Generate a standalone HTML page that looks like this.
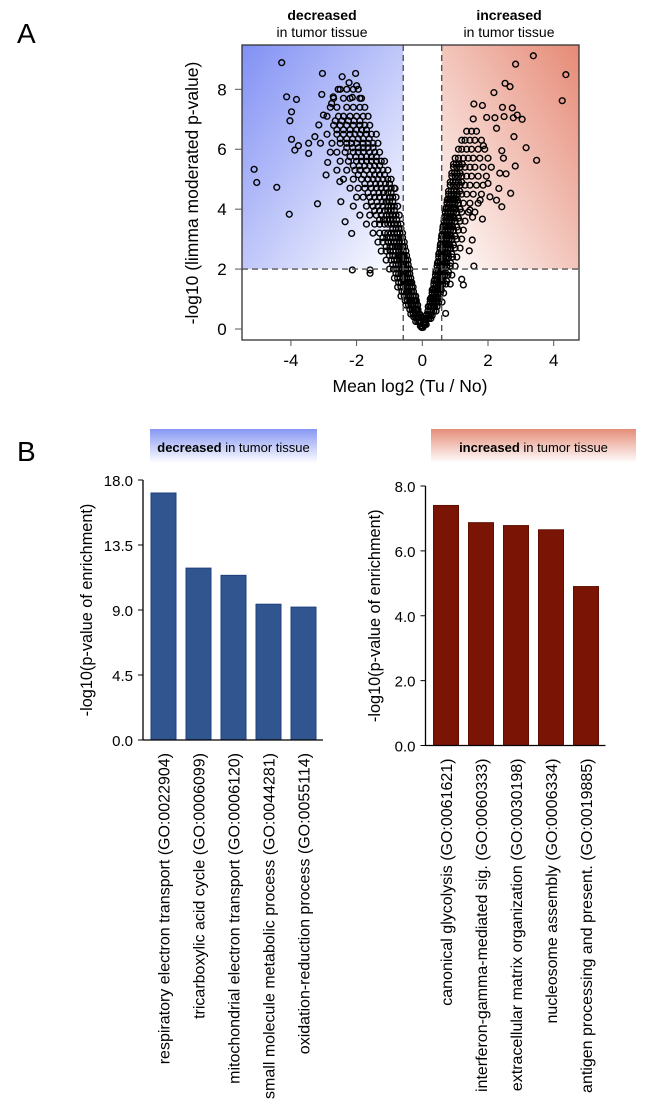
<!DOCTYPE html>
<html><head><meta charset="utf-8"><style>
html,body{margin:0;padding:0;background:#fff;}
svg{display:block;font-family:"Liberation Sans",Arial,sans-serif;}
</style></head><body>
<svg id="fig" width="650" height="1115" viewBox="0 0 650 1115" xmlns="http://www.w3.org/2000/svg">
<defs>
<linearGradient id="gBlue" x1="0" y1="0" x2="1" y2="1"><stop offset="0" stop-color="#8190f4"/><stop offset="1" stop-color="#ffffff"/></linearGradient>
<linearGradient id="gRed" x1="1" y1="0" x2="0" y2="1"><stop offset="0" stop-color="#e68a76"/><stop offset="1" stop-color="#ffffff"/></linearGradient>
<linearGradient id="hBlue" x1="0" y1="0" x2="0" y2="1"><stop offset="0" stop-color="#8797f3"/><stop offset="1" stop-color="#ffffff"/></linearGradient>
<linearGradient id="hRed" x1="0" y1="0" x2="0" y2="1"><stop offset="0" stop-color="#e58d79"/><stop offset="1" stop-color="#ffffff"/></linearGradient>
</defs>
<text x="17" y="43" font-size="28">A</text>
<text x="17" y="461" font-size="28">B</text>
<g id="volcano"></g>
<g id="barsL"></g>
<g id="barsR"></g>
</svg>
<script>
// ---- Volcano data ----
const outX = [-4.28,-4.13,-3.83,-3.98,-4.03,-3.98,-3.77,-3.88,-5.12,-5.04,-4.43,-4.05,-3.19,-3.04,-3.06,-2.44,-2.03,-2.23,-2.0,-2.56,-2.13,-2.71,-3.46,-3.46,-3.27,-3.15,-3.01,-2.76,-2.93,-2.88,-2.51,-2.48,-2.35,-2.15,-2.13,-1.59,-1.59,-0.83,
3.38,2.84,4.37,2.52,2.67,2.18,4.26,1.57,1.83,2.44,2.74,2.89,3.04,2.49,2.77,2.21,1.96,1.55,2.26,2.79,1.86,3.16,2.42,2.47,3.48,2.83,2.55,2.36,2.33,2.69,2.42,2.26,1.53,1.83,1.52,1.43,1.57,1.25,1.2,0.71,2.0,2.06,1.76,1.45];
const outY = [8.89,7.75,7.66,7.25,6.95,6.33,6.12,5.97,5.33,4.89,4.73,3.83,4.18,8.53,7.83,8.42,8.53,8.22,8.12,8.0,7.73,7.75,6.2,5.86,6.42,6.81,7.14,7.53,5.14,5.56,4.92,4.25,3.58,3.19,1.97,1.97,1.86,4.69,
9.12,8.84,8.49,8.2,8.09,7.89,7.62,7.51,7.46,7.4,7.38,7.14,7.0,7.09,7.05,7.05,7.06,7.01,6.7,6.42,6.12,6.05,5.95,5.7,5.63,5.44,5.18,5.2,4.69,4.53,4.08,4.3,3.73,3.67,2.97,2.61,2.1,1.47,1.66,0.52,4.86,4.41,4.3,3.97];
const rowY = [8.0,7.7,7.4,7.1,6.8,6.5,6.2,5.9,5.6,5.3,5.0,4.7,4.4,4.1,3.8,3.5,3.2,2.9,2.6,2.3,2.0,1.7,1.4,1.1,0.8,0.5,0.25,0.1,
 3.35,3.05,2.75,2.45,2.15,1.85,1.55,1.25,0.95,0.65,0.38,
 0.05,0.4,0.65,0.95,1.25,1.55,1.85,2.15,2.45,2.75,3.05,3.65,3.95,4.25,4.55,4.85,5.15,5.45,5.75,6.05,6.35,6.65,6.95,
 6.6,6.3,6.0,5.7,5.4,5.1,4.8,4.5,4.2,3.9,3.6,3.3,3.0,2.7,2.4,2.1,1.8,1.5,1.2,0.9,0.6,0.35,0.15,
 4.35,4.05,3.75,3.45,3.15,2.85,2.55,2.25,1.95,1.65,1.35,1.05,0.75,0.48,0.25,
 0.05,0.45,0.75,1.0,1.3,1.6,1.9,2.2,2.5,2.8,3.1,3.4,3.7,4.0,4.3,4.6,4.9,5.2,5.5];
const rowX = [
[-2.5,-2.3,-2.1,-1.95],[-2.7,-2.4,-2.2,-1.9,-1.85],[-2.8,-2.6,-2.3,-2.1,-1.9,-1.75],[-2.9,-2.55,-2.4,-2.2,-2.0,-1.8,-1.65],
[-2.7,-2.5,-2.3,-2.1,-1.9,-1.75,-1.6],[-2.9,-2.6,-2.4,-2.2,-2.05,-1.9,-1.7,-1.55,-1.4],[-3.1,-2.75,-2.5,-2.3,-2.15,-2.0,-1.8,-1.65,-1.5,-1.35],
[-2.8,-2.6,-2.35,-2.1,-1.95,-1.8,-1.6,-1.45,-1.3],[-2.5,-2.25,-2.0,-1.85,-1.7,-1.55,-1.4,-1.25,-1.15],[-2.6,-2.3,-2.05,-1.9,-1.7,-1.5,-1.35,-1.2,-1.05],
[-2.4,-2.1,-1.85,-1.65,-1.5,-1.35,-1.2,-1.05,-0.95],[-2.2,-1.95,-1.75,-1.55,-1.4,-1.25,-1.1,-0.95,-0.85],[-2.0,-1.8,-1.6,-1.45,-1.3,-1.15,-1.0,-0.9,-0.8],
[-2.1,-1.7,-1.5,-1.35,-1.2,-1.05,-0.95,-0.85,-0.75],[-1.9,-1.6,-1.4,-1.25,-1.1,-1.0,-0.9,-0.8,-0.7],[-1.7,-1.45,-1.3,-1.15,-1.05,-0.95,-0.85,-0.75,-0.65],
[-1.5,-1.3,-1.15,-1.05,-0.95,-0.85,-0.75,-0.68,-0.6],[-1.35,-1.2,-1.05,-0.95,-0.85,-0.78,-0.7,-0.62,-0.55],[-1.25,-1.1,-0.98,-0.88,-0.8,-0.72,-0.65,-0.58,-0.5],
[-1.1,-0.95,-0.85,-0.77,-0.7,-0.63,-0.56,-0.5,-0.44],[-1.0,-0.88,-0.78,-0.7,-0.63,-0.56,-0.5,-0.44,-0.38],[-0.85,-0.75,-0.67,-0.6,-0.53,-0.47,-0.41,-0.35],
[-0.75,-0.65,-0.58,-0.51,-0.45,-0.39,-0.33,-0.28],[-0.65,-0.55,-0.48,-0.42,-0.36,-0.3,-0.25,-0.2],[-0.5,-0.42,-0.35,-0.29,-0.24,-0.19,-0.14],
[-0.35,-0.28,-0.22,-0.17,-0.12,-0.08],[-0.2,-0.14,-0.09,-0.05],[-0.06,-0.02],
[-0.9,-0.8,-0.72,-0.65],[-0.82,-0.74,-0.66,-0.6],[-0.76,-0.68,-0.6,-0.54],[-0.7,-0.62,-0.55,-0.48],[-0.64,-0.56,-0.5,-0.43],[-0.58,-0.5,-0.44,-0.38],
[-0.52,-0.45,-0.39,-0.32],[-0.46,-0.4,-0.33,-0.27],[-0.38,-0.32,-0.26,-0.21],[-0.3,-0.25,-0.2,-0.15],[-0.2,-0.15,-0.1],
[-0.02],[-0.26,-0.2,-0.14,-0.09],[-0.38,-0.31,-0.25,-0.19,-0.13],[-0.52,-0.45,-0.38,-0.31,-0.24,-0.18],[-0.62,-0.55,-0.48,-0.41,-0.34,-0.27],
[-0.72,-0.64,-0.57,-0.5,-0.43,-0.36],[-0.8,-0.72,-0.65,-0.58,-0.51,-0.44],[-0.9,-0.8,-0.72,-0.65,-0.58,-0.5],[-1.0,-0.9,-0.82,-0.74,-0.66,-0.58],
[-1.1,-0.98,-0.9,-0.82,-0.74,-0.66],[-1.2,-1.08,-0.98,-0.9,-0.82,-0.72],[-1.3,-1.18,-1.08,-0.98,-0.88,-0.78],[-1.45,-1.3,-1.15,-1.05,-0.95,-0.85],
[-1.55,-1.38,-1.22,-1.1,-1.0,-0.9],[-1.65,-1.48,-1.32,-1.18,-1.05,-0.95],[-1.75,-1.58,-1.42,-1.28,-1.12,-1.0],[-1.95,-1.78,-1.6,-1.45,-1.3,-1.15],
[-2.1,-1.92,-1.75,-1.6,-1.45,-1.3],[-2.2,-2.02,-1.85,-1.7,-1.55,-1.4],[-2.3,-2.12,-1.95,-1.8,-1.65,-1.5],[-2.5,-2.3,-2.12,-1.95,-1.8,-1.62],
[-2.6,-2.4,-2.2,-2.0,-1.85,-1.7],[-2.65,-2.45,-2.25,-2.08,-1.9],
[1.35,1.5,1.65],[1.2,1.3,1.45,1.6,1.8],[1.1,1.2,1.35,1.5,1.7,1.9],[1.0,1.1,1.25,1.4,1.55,1.75,2.0],[0.95,1.05,1.15,1.3,1.45,1.6,1.85,2.1],
[0.9,1.0,1.1,1.2,1.35,1.5,1.7,1.95],[0.85,0.95,1.05,1.15,1.3,1.45,1.65,1.85],[0.8,0.88,0.97,1.07,1.2,1.35,1.55,1.8],[0.75,0.83,0.92,1.0,1.1,1.25,1.45,1.7],
[0.7,0.78,0.86,0.95,1.05,1.2,1.4,1.6],[0.66,0.74,0.82,0.9,1.0,1.15,1.3],[0.62,0.7,0.78,0.86,0.95,1.1,1.25],[0.58,0.66,0.74,0.82,0.9,1.05,1.2],
[0.54,0.62,0.7,0.78,0.86,1.0,1.15],[0.5,0.58,0.65,0.72,0.8,0.92,1.05],[0.45,0.53,0.6,0.67,0.75,0.85,1.0],[0.4,0.47,0.54,0.61,0.68,0.78,0.9],
[0.35,0.42,0.49,0.55,0.62,0.72,0.85],[0.3,0.36,0.42,0.48,0.55,0.65],[0.24,0.3,0.36,0.42,0.5,0.6],[0.17,0.23,0.29,0.35,0.42],[0.1,0.15,0.2,0.26],[0.04,0.08,0.12],
[0.78,0.86,0.94,1.02],[0.73,0.8,0.88,0.96],[0.68,0.76,0.84,0.92],[0.64,0.72,0.8,0.88],[0.6,0.68,0.76,0.84],[0.56,0.64,0.72,0.8],[0.52,0.6,0.68,0.76],
[0.48,0.55,0.62,0.7],[0.43,0.5,0.57,0.64],[0.38,0.45,0.52,0.59],[0.33,0.4,0.47,0.54],[0.27,0.34,0.41,0.48],[0.2,0.27,0.34],[0.13,0.19,0.25],[0.05,0.1],
[0.02],[0.12,0.18,0.24,0.3],[0.18,0.25,0.32,0.38,0.45],[0.24,0.3,0.37,0.44,0.52],[0.3,0.37,0.44,0.51,0.58],[0.36,0.43,0.5,0.57,0.64,0.74],
[0.41,0.48,0.55,0.62,0.7,0.8],[0.46,0.53,0.6,0.67,0.75,0.86],[0.5,0.57,0.64,0.71,0.79,0.9],[0.55,0.62,0.69,0.76,0.84,0.95],[0.59,0.66,0.73,0.8,0.88,1.0],
[0.63,0.7,0.77,0.84,0.92,1.05],[0.67,0.74,0.81,0.88,0.97,1.1],[0.72,0.79,0.86,0.94,1.02,1.15],[0.76,0.83,0.9,0.98,1.07],[0.8,0.88,0.96,1.04,1.14],
[0.85,0.93,1.01,1.1,1.2],[0.9,0.98,1.06,1.15],[0.95,1.03,1.12,1.22]];
const xTicks = [-4,-2,0,2,4];
const yTicks = [0,2,4,6,8];
// ---- Bar data ----
const decCats = ["respiratory electron transport (GO:0022904)","tricarboxylic acid cycle (GO:0006099)","mitochondrial electron transport (GO:0006120)","small molecule metabolic process (GO:0044281)","oxidation-reduction process (GO:0055114)"];
const decVals = [17.1,11.9,11.4,9.4,9.2];
const decTicks = ["0.0","4.5","9.0","13.5","18.0"];
const incCats = ["canonical glycolysis (GO:0061621)","interferon-gamma-mediated sig. (GO:0060333)","extracellular matrix organization (GO:0030198)","nucleosome assembly (GO:0006334)","antigen processing and present. (GO:0019885)"];
const incVals = [7.4,6.87,6.78,6.65,4.9];
const incTicks = ["0.0","2.0","4.0","6.0","8.0"];

const NS="http://www.w3.org/2000/svg";
function mk(parent,tag,attrs,text){const e=document.createElementNS(NS,tag);for(const k in attrs)e.setAttribute(k,attrs[k]);if(text!==undefined)e.textContent=text;parent.appendChild(e);return e;}

// Volcano
(function(){
 const g=document.getElementById('volcano');
 const L=242,R=579,T=45,B=340;
 const sx=v=>422.3+v*32.85, sy=v=>329-v*29.96;
 const thrL=sx(-0.58), thrR=sx(0.59), thrY=sy(2);
 let r=mk(g,'rect',{x:L,y:T,width:thrL-L,height:thrY-T,fill:'url(#gBlue)'});
 
 
 r=mk(g,'rect',{x:thrR,y:T,width:R-thrR,height:thrY-T,fill:'url(#gRed)'});
 
 
 const pts=mk(g,'g',{fill:'none',stroke:'#000','stroke-width':1.4});
 
 
 rowY.forEach((y,i)=>rowX[i].forEach(x=>{const c=mk(pts,'circle',{cx:sx(x),cy:sy(y),r:2.9});
  
  }));
 outX.forEach((x,i)=>{const c=mk(pts,'circle',{cx:sx(x),cy:sy(outY[i]),r:2.9});
  
  });
 const d={stroke:'#555','stroke-width':1.4,'stroke-dasharray':'6,4'};
 let l=mk(g,'line',Object.assign({x1:thrL,x2:thrL,y1:T,y2:B},d));
 
 
 l=mk(g,'line',Object.assign({x1:thrR,x2:thrR,y1:T,y2:B},d));
 
 
 l=mk(g,'line',Object.assign({x1:L,x2:R,y1:thrY,y2:thrY},d));
 
 
 r=mk(g,'rect',{x:L,y:T,width:R-L,height:B-T,fill:'none',stroke:'#333','stroke-width':1.3});
 
 
 xTicks.forEach(v=>{mk(g,'line',{x1:sx(v),x2:sx(v),y1:B,y2:B+6,stroke:'#555'});
  const t=mk(g,'text',{x:sx(v),y:B+26,'font-size':17,'text-anchor':'middle'},String(v));
  
  });
 yTicks.forEach(v=>{mk(g,'line',{x1:L-7,x2:L,y1:sy(v),y2:sy(v),stroke:'#555'});
  const t=mk(g,'text',{x:222,y:sy(v)+6,'font-size':17,'text-anchor':'middle'},String(v));
  
  });
 let t=mk(g,'text',{x:410,y:392,'font-size':17.5,'text-anchor':'middle'},'Mean log2 (Tu / No)');
 
 
 t=mk(g,'text',{x:0,y:0,'font-size':17.5,'text-anchor':'middle',transform:'translate(198,193) rotate(-90)'},'-log10 (limma moderated p-value)');
 
 
 t=mk(g,'text',{x:322,y:20,'font-size':14,'font-weight':'bold','text-anchor':'middle'},'decreased');
 
 
 t=mk(g,'text',{x:322,y:37,'font-size':14,'text-anchor':'middle'},'in tumor tissue');
 
 
 t=mk(g,'text',{x:509,y:20,'font-size':14,'font-weight':'bold','text-anchor':'middle'},'increased');
 
 
 t=mk(g,'text',{x:509,y:37,'font-size':14,'text-anchor':'middle'},'in tumor tissue');
 
 
})();

function barChart(id,cats,vals,ticks,o){
 const g=document.getElementById(id);
 const max=parseFloat(ticks[ticks.length-1]);
 const sy=v=>o.y0-v/max*(o.y0-o.yTop);
 let h=mk(g,'rect',{x:o.hx,y:429,width:o.hw,height:34,fill:o.hfill});
 
 
 const ht=mk(g,'text',{x:o.hx+o.hw/2,y:452,'font-size':13,'text-anchor':'middle'});
 
 
 mk(ht,'tspan',{'font-weight':'bold'},o.word);
 mk(ht,'tspan',{},' in tumor tissue');
 cats.forEach((c,i)=>{
  const x=o.ax+8+i*35;
  const b=mk(g,'rect',{x:x,y:sy(vals[i]),width:25,height:o.y0-sy(vals[i]),fill:o.fill,stroke:o.stroke,'stroke-width':1});
  
  
  const t=mk(g,'text',{x:0,y:0,'font-size':16,'text-anchor':'end',transform:'translate('+(x+18.5)+','+(o.y0+13)+') rotate(-90)'},c);
  
  
 });
 let a=mk(g,'line',{x1:o.ax,x2:o.ax,y1:o.yTop,y2:o.y0,stroke:'#000','stroke-width':1.3});
 
 
 a=mk(g,'line',{x1:o.ax,x2:o.ax+180,y1:o.y0,y2:o.y0,stroke:'#000','stroke-width':1.3});
 
 
 ticks.forEach(tk=>{const v=parseFloat(tk);
  mk(g,'line',{x1:o.ax-5,x2:o.ax,y1:sy(v),y2:sy(v),stroke:'#000'});
  const t=mk(g,'text',{x:o.ax-10,y:sy(v)+6,'font-size':15,'text-anchor':'end'},tk);
  
  });
 const yt=mk(g,'text',{x:0,y:0,'font-size':16.3,'text-anchor':'middle',transform:'translate('+o.tx+','+((o.y0+o.yTop)/2)+') rotate(-90)'},'-log10(p-value of enrichment)');
 
 
}
barChart('barsL',decCats,decVals,decTicks,{ax:143,y0:740,yTop:480,fill:'#30558f',stroke:'#1f3f7e',hx:150,hw:167,hfill:'url(#hBlue)',word:'decreased',tx:92});
barChart('barsR',incCats,incVals,incTicks,{ax:425.5,y0:745.5,yTop:486,fill:'#7a1505',stroke:'#5e0f02',hx:431,hw:205,hfill:'url(#hRed)',word:'increased',tx:380});
</script>
</body></html>
